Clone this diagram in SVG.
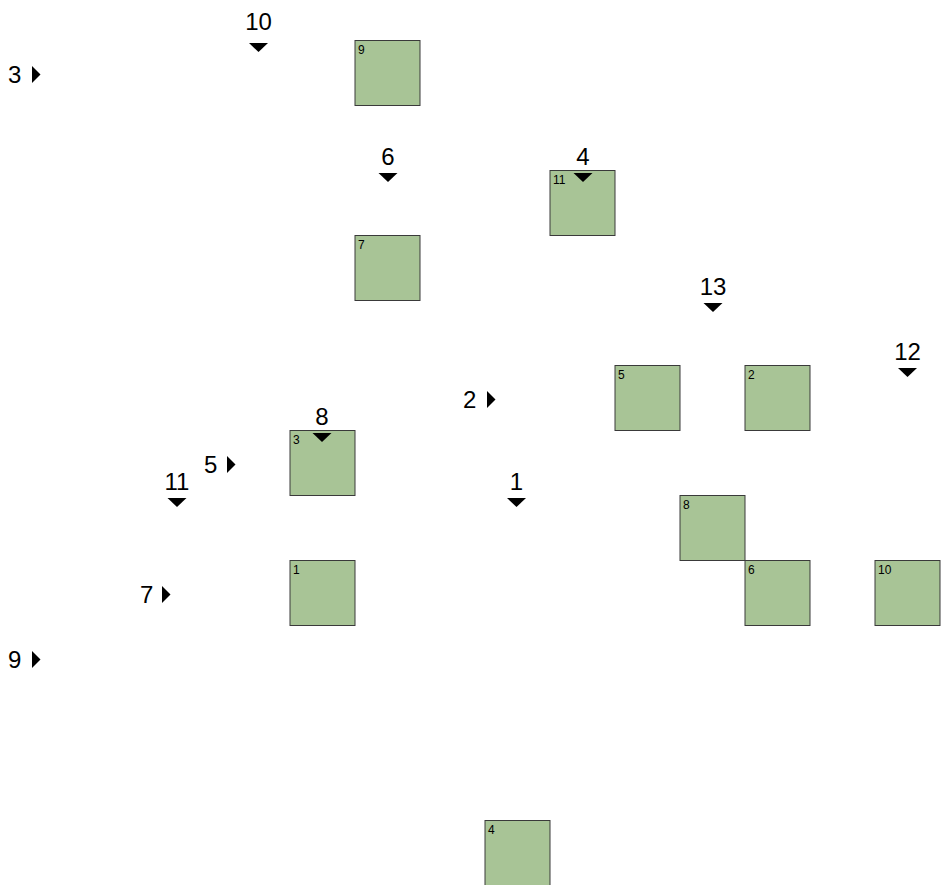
<svg xmlns="http://www.w3.org/2000/svg" width="949" height="885" viewBox="0 0 949 885">
<style>
.node rect{fill:#a8c496;stroke:#3a3a3a;stroke-width:1}
.node text{font-family:"Liberation Sans",Arial,sans-serif;font-size:12px;fill:#000}
.mk{font-family:"Liberation Sans",Arial,sans-serif;font-size:24px;fill:#000}
.tri{fill:#000}
</style>
<rect width="949" height="885" fill="#fff"/>
<g id="nodes">
<g id="node9" class="node"><rect x="355" y="40.5" width="65" height="65"/><text x="358" y="54">9</text></g>
<g id="node11" class="node"><rect x="550" y="170.5" width="65" height="65"/><text x="553" y="184">11</text></g>
<g id="node7" class="node"><rect x="355" y="235.5" width="65" height="65"/><text x="358" y="249">7</text></g>
<g id="node5" class="node"><rect x="615" y="365.5" width="65" height="65"/><text x="618" y="379">5</text></g>
<g id="node2" class="node"><rect x="745" y="365.5" width="65" height="65"/><text x="748" y="379">2</text></g>
<g id="node3" class="node"><rect x="290" y="430.5" width="65" height="65"/><text x="293" y="444">3</text></g>
<g id="node8" class="node"><rect x="680" y="495.5" width="65" height="65"/><text x="683" y="509">8</text></g>
<g id="node1" class="node"><rect x="290" y="560.5" width="65" height="65"/><text x="293" y="574">1</text></g>
<g id="node6" class="node"><rect x="745" y="560.5" width="65" height="65"/><text x="748" y="574">6</text></g>
<g id="node10" class="node"><rect x="875" y="560.5" width="65" height="65"/><text x="878" y="574">10</text></g>
<g id="node4" class="node"><rect x="485" y="820.5" width="65" height="65"/><text x="488" y="834">4</text></g>
</g>
<g id="connectors">
<g id="m10"><text class="mk" x="258.5" y="30" text-anchor="middle">10</text><polygon class="tri" points="249,43 268,43 258.5,52"/></g>
<g id="m6"><text class="mk" x="388" y="165" text-anchor="middle">6</text><polygon class="tri" points="378.5,173 397.5,173 388,182"/></g>
<g id="m4"><text class="mk" x="583" y="165" text-anchor="middle">4</text><polygon class="tri" points="573.5,173 592.5,173 583,182"/></g>
<g id="m13"><text class="mk" x="713" y="295" text-anchor="middle">13</text><polygon class="tri" points="703.5,303 722.5,303 713,312"/></g>
<g id="m12"><text class="mk" x="907.5" y="360" text-anchor="middle">12</text><polygon class="tri" points="898,368 917,368 907.5,377"/></g>
<g id="m8"><text class="mk" x="322" y="425" text-anchor="middle">8</text><polygon class="tri" points="312.5,433 331.5,433 322,442"/></g>
<g id="m11"><text class="mk" x="177" y="490" text-anchor="middle">11</text><polygon class="tri" points="167.5,498 186.5,498 177,507"/></g>
<g id="m1"><text class="mk" x="516.5" y="490" text-anchor="middle">1</text><polygon class="tri" points="507,498 526,498 516.5,507"/></g>
<g id="m3"><text class="mk" x="8" y="83">3</text><polygon class="tri" points="32,66 32,83 40.5,74.5"/></g>
<g id="m9"><text class="mk" x="8" y="668">9</text><polygon class="tri" points="32,651 32,668 40.5,659.5"/></g>
<g id="m2"><text class="mk" x="463" y="408">2</text><polygon class="tri" points="487,391 487,408 495.5,399.5"/></g>
<g id="m5"><text class="mk" x="204" y="473">5</text><polygon class="tri" points="227,456 227,473 235.5,464.5"/></g>
<g id="m7"><text class="mk" x="140" y="603">7</text><polygon class="tri" points="162,586 162,603 170.5,594.5"/></g>
</g>
</svg>
